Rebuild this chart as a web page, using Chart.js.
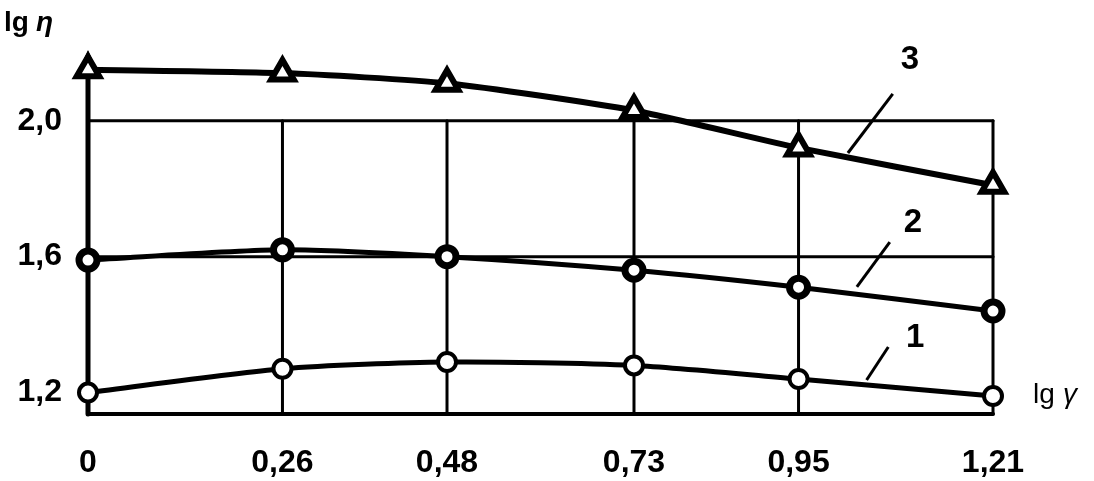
<!DOCTYPE html>
<html>
<head>
<meta charset="utf-8">
<style>
  html, body { margin: 0; padding: 0; background: #fff; }
  #wrap { width: 1094px; height: 481px; }
</style>
</head>
<body>
<div id="wrap"><canvas id="chartVisc" width="1094" height="481"></canvas></div>
<script src="https://cdn.jsdelivr.net/npm/chart.js@4/dist/chart.umd.min.js"></script>
<script>
// values
const xValues = [0, 0.26, 0.48, 0.73, 0.95, 1.21];
const xTickLabels = ['0', '0,26', '0,48', '0,73', '0,95', '1,21'];
const yTickValues = [1.2, 1.6, 2.0];
const yTickLabels = ['1,2', '1,6', '2,0'];
const curve1 = [1.20, 1.27, 1.29, 1.28, 1.24, 1.19];
const curve2 = [1.59, 1.62, 1.60, 1.56, 1.51, 1.44];
const curve3 = [2.15, 2.14, 2.11, 2.03, 1.92, 1.81];
// curve numbers with their leader lines: [labelX, labelY, fromX, fromY, toX, toY]
const curveNames = ['1', '2', '3'];
const curveTags = [
    [1.106, 1.361, 1.070, 1.334, 1.041, 1.237],
    [1.103, 1.699, 1.072, 1.643, 1.028, 1.511],
    [1.099, 2.179, 1.076, 2.079, 1.016, 1.905]
];

const ink = '#000';
const fontFamily = 'Liberation Sans, Arial, sans-serif';
const tickFont = { family: fontFamily, size: 32, weight: 'bold' };

function toPoints(ys) {
    return xValues.map((x, i) => ({ x: x, y: ys[i] }));
}

// grid of the figure: lines stop at 2,0, left axis goes up to an arrow
const gridPlugin = {
    id: 'gridPlugin',
    beforeDatasetsDraw(chart) {
        const { ctx, chartArea, scales } = chart;
        const xs = scales.x, ys = scales.y;
        const left = xs.getPixelForValue(0);
        const right = xs.getPixelForValue(1.21);
        const top2 = ys.getPixelForValue(2.0);
        const bottom = chartArea.bottom;
        ctx.save();
        ctx.strokeStyle = ink;
        ctx.lineCap = 'round';
        ctx.lineWidth = 3;
        [2.0, 1.6].forEach(v => {
            const y = ys.getPixelForValue(v);
            ctx.beginPath(); ctx.moveTo(left, y); ctx.lineTo(right, y); ctx.stroke();
        });
        xValues.slice(1).forEach(v => {
            const x = xs.getPixelForValue(v);
            ctx.beginPath(); ctx.moveTo(x, bottom); ctx.lineTo(x, top2); ctx.stroke();
        });
        ctx.lineWidth = 4;
        ctx.beginPath(); ctx.moveTo(left, bottom); ctx.lineTo(right, bottom); ctx.stroke();
        ctx.lineWidth = 5;
        ctx.beginPath(); ctx.moveTo(left, bottom); ctx.lineTo(left, chartArea.top + 8); ctx.stroke();
        // arrow head
        ctx.fillStyle = ink;
        ctx.beginPath();
        ctx.moveTo(left, chartArea.top);
        ctx.lineTo(left - 11, chartArea.top + 24);
        ctx.lineTo(left + 11, chartArea.top + 24);
        ctx.closePath();
        ctx.fill();
        ctx.restore();
    },
    afterDraw(chart) {
        const { ctx, scales } = chart;
        const xs = scales.x, ys = scales.y;
        ctx.save();
        ctx.fillStyle = ink;
        ctx.strokeStyle = ink;
        ctx.lineWidth = 3;
        ctx.textAlign = 'center';
        ctx.textBaseline = 'middle';
        ctx.font = 'bold 33px ' + fontFamily;
        curveTags.forEach((t, i) => {
            ctx.fillText(curveNames[i], xs.getPixelForValue(t[0]), ys.getPixelForValue(t[1]));
            ctx.beginPath();
            ctx.moveTo(xs.getPixelForValue(t[2]), ys.getPixelForValue(t[3]));
            ctx.lineTo(xs.getPixelForValue(t[4]), ys.getPixelForValue(t[5]));
            ctx.stroke();
        });
        // axis names
        ctx.textAlign = 'left';
        ctx.textBaseline = 'alphabetic';
        ctx.font = 'bold 28px ' + fontFamily;
        ctx.fillText('lg', 4, 31);
        ctx.font = 'italic bold 28px ' + fontFamily;
        ctx.fillText('η', 36, 31);
        ctx.font = '28px ' + fontFamily;
        ctx.fillText('lg', 1033, 403);
        ctx.font = 'italic 28px ' + fontFamily;
        ctx.fillText('γ', 1063, 403);
        ctx.restore();
    }
};

const chartVisc = new Chart(document.getElementById('chartVisc'), {
    type: 'line',
    data: {
        datasets: [
            {
                label: '1',
                data: toPoints(curve1),
                borderColor: ink,
                borderWidth: 5,
                tension: 0.25,
                pointStyle: 'circle',
                pointRadius: 9,
                pointBorderWidth: 4,
                pointBackgroundColor: '#fff',
                pointBorderColor: ink,
                clip: false
            },
            {
                label: '2',
                data: toPoints(curve2),
                borderColor: ink,
                borderWidth: 5,
                tension: 0.25,
                pointStyle: 'circle',
                pointRadius: 9,
                pointBorderWidth: 7,
                pointBackgroundColor: '#fff',
                pointBorderColor: ink,
                clip: false
            },
            {
                label: '3',
                data: toPoints(curve3),
                borderColor: ink,
                borderWidth: 6,
                tension: 0.2,
                pointStyle: 'triangle',
                pointRadius: 13,
                pointBorderWidth: 6,
                pointBackgroundColor: '#fff',
                pointBorderColor: ink,
                clip: false
            }
        ]
    },
    options: {
        responsive: false,
        animation: false,
        layout: { padding: { top: 50, right: 101, left: 0, bottom: 0 } },
        plugins: {
            legend: { display: false },
            tooltip: { enabled: false }
        },
        scales: {
            x: {
                type: 'linear',
                min: 0,
                max: 1.21,
                grid: { display: false },
                border: { display: false },
                afterBuildTicks: s => { s.ticks = xValues.map(v => ({ value: v })); },
                afterFit: s => { s.height = 67; },
                ticks: {
                    color: ink,
                    font: tickFont,
                    padding: 22,
                    autoSkip: false,
                    maxRotation: 0,
                    callback: (v, i) => xTickLabels[i]
                }
            },
            y: {
                type: 'linear',
                min: 1.137,
                max: 2.208,
                grid: { display: false },
                border: { display: false },
                afterBuildTicks: s => { s.ticks = yTickValues.map(v => ({ value: v })); },
                afterFit: s => { s.width = 88; },
                ticks: {
                    color: ink,
                    font: tickFont,
                    padding: 18,
                    autoSkip: false,
                    callback: (v, i) => yTickLabels[i]
                }
            }
        }
    },
    plugins: [gridPlugin]
});
</script>
</body>
</html>
